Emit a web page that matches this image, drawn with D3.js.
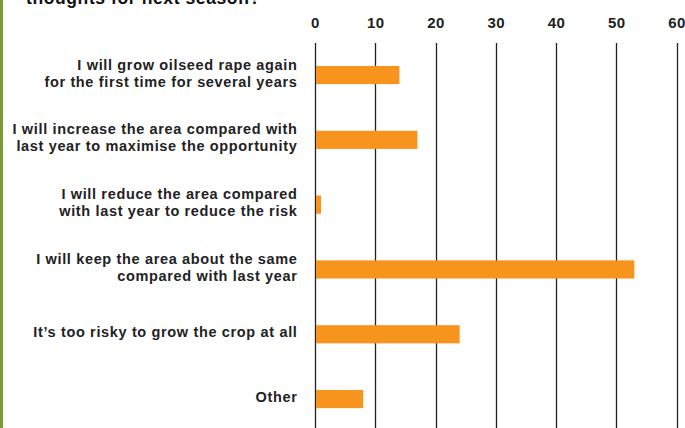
<!DOCTYPE html>
<html>
<head>
<meta charset="utf-8">
<script src="https://cdn.jsdelivr.net/npm/d3@7"></script>
<style>
  html, body { margin: 0; padding: 0; background: #fff; }
  svg { display: block; }
</style>
</head>
<body>
<svg id="chart" width="685" height="428"></svg>
<script>
// Survey answers (label lines) and share of respondents (%)
const categories = [
  ["I will grow oilseed rape again", "for the first time for several years"],
  ["I will increase the area compared with", "last year to maximise the opportunity"],
  ["I will reduce the area compared", "with last year to reduce the risk"],
  ["I will keep the area about the same", "compared with last year"],
  ["It\u2019s too risky to grow the crop at all"],
  ["Other"]
];
const values = [14, 17, 1, 53, 24, 8];
const tickValues = [0, 10, 20, 30, 40, 50, 60];
const titleText = "thoughts for next season?";

const W = 685, H = 428;
const svg = d3.select("#chart");
const font = "'Liberation Sans', Arial, Helvetica, sans-serif";

const keys = categories.map(c => c.join(" "));
const x = d3.scaleLinear().domain([0, 60]).range([315, 676.5]);
const y = d3.scaleBand().domain(keys).range([19.3, 454.8]).padding(0.72);

// left accent rule
svg.append("rect").attr("x", 0).attr("y", 0).attr("width", 3).attr("height", H)
  .attr("fill", "#7b9a3a");

// title (second line)
svg.append("text").attr("x", 26).attr("y", 4)
  .attr("font-family", font).attr("font-weight", "bold").attr("font-size", 17.5)
  .attr("letter-spacing", 0.6)
  .attr("fill", "#111").text(titleText);

// axis on top with ticks spanning the plot as gridlines
const axis = d3.axisTop(x).tickValues(tickValues).tickSize(0).tickPadding(0);
const gAxis = svg.append("g").attr("transform", "translate(0,28)").call(axis);
gAxis.select(".domain").remove();
gAxis.selectAll("text")
  .attr("font-family", font).attr("font-weight", "bold").attr("font-size", 15)
  .attr("letter-spacing", 0.5)
  .attr("fill", "#222").attr("dy", 0);

svg.append("g").selectAll("line").data(tickValues).join("line")
  .attr("x1", d => Math.round(x(d)) + 0.5).attr("x2", d => Math.round(x(d)) + 0.5)
  .attr("y1", 43).attr("y2", H)
  .attr("stroke", "#222").attr("stroke-width", 1.3);

// bars
svg.append("g").selectAll("rect").data(values).join("rect")
  .attr("x", x(0) + 1)
  .attr("y", (d, i) => y(keys[i]))
  .attr("width", d => x(d) - x(0) - 1)
  .attr("height", y.bandwidth())
  .attr("fill", "#f7941e");

// category labels, right-aligned
const lineH = 17;
const lab = svg.append("g").selectAll("text").data(categories).join("text")
  .attr("text-anchor", "end")
  .attr("font-family", font).attr("font-weight", "bold").attr("font-size", 14.5)
  .attr("letter-spacing", 0.65)
  .attr("fill", "#222");
lab.each(function(lines, i) {
  const cy = y(keys[i]) + y.bandwidth() / 2;
  const top = cy - (lines.length - 1) * lineH / 2;
  d3.select(this).selectAll("tspan").data(lines).join("tspan")
    .attr("x", 297.5).attr("y", (d, j) => top + j * lineH + 3).text(d => d);
});
</script>
</body>
</html>
